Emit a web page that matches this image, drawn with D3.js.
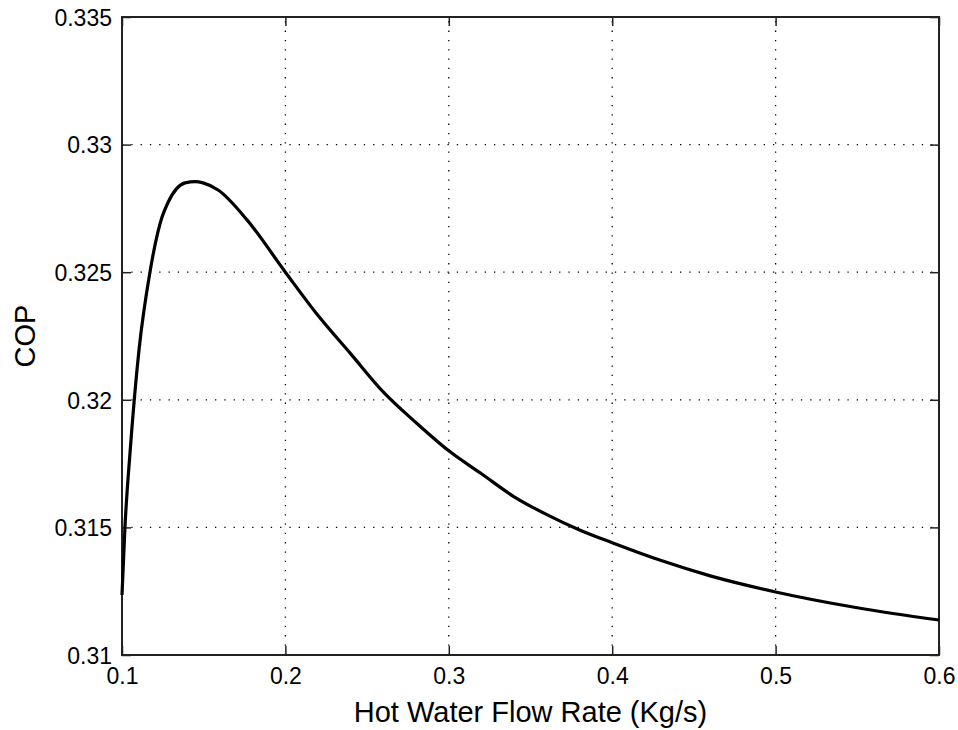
<!DOCTYPE html>
<html>
<head>
<meta charset="utf-8">
<script src="https://cdn.jsdelivr.net/npm/d3@7"></script>
<style>
  html, body { margin: 0; padding: 0; background: #fff; }
  svg { display: block; }
  text { font-family: "Liberation Sans", Arial, sans-serif; fill: #000; }
</style>
</head>
<body>
<script>
// Data
const flowRate = [0.1, 0.1018, 0.105, 0.1104, 0.1171, 0.1245, 0.128, 0.1386, 0.145, 0.1496, 0.1588, 0.1765, 0.2, 0.22, 0.24, 0.26, 0.28, 0.3, 0.32, 0.34, 0.36, 0.38, 0.4, 0.43, 0.46, 0.5, 0.55, 0.6];
const cop      = [0.31235, 0.315, 0.318, 0.32195, 0.325, 0.32716, 0.32771, 0.3285, 0.32855, 0.3285, 0.32822, 0.32705, 0.325, 0.3233, 0.3218, 0.3203, 0.3191, 0.318, 0.3171, 0.3162, 0.3155, 0.3149, 0.3144, 0.3137, 0.3131, 0.31247, 0.31185, 0.31137];
const xTicks = [0.1, 0.2, 0.3, 0.4, 0.5, 0.6];
const yTicks = [0.31, 0.315, 0.32, 0.325, 0.33, 0.335];
const xLabel = "Hot Water Flow Rate (Kg/s)";
const yLabel = "COP";

const W = 958, H = 730;
const m = { left: 122, right: 958 - 939, top: 17, bottom: 730 - 655 };

const svg = d3.select("body").append("svg").attr("width", W).attr("height", H);

const x = d3.scaleLinear().domain([0.1, 0.6]).range([m.left, W - m.right]);
const y = d3.scaleLinear().domain([0.31, 0.335]).range([H - m.bottom, m.top]);

const x0 = x.range()[0], x1 = x.range()[1], y0 = y.range()[0], y1 = y.range()[1];

// grid
const grid = svg.append("g").attr("stroke", "#000").attr("stroke-width", 1.3).attr("stroke-dasharray", "1.3 8");
grid.selectAll(".gx").data(xTicks.slice(1, -1)).join("line")
  .attr("x1", d => x(d)).attr("x2", d => x(d)).attr("y1", y0).attr("y2", y1);
grid.selectAll(".gy").data(yTicks.slice(1, -1)).join("line")
  .attr("y1", d => y(d)).attr("y2", d => y(d)).attr("x1", x0).attr("x2", x1);

// axes with inward ticks
const fmt = d => String(+d.toFixed(3));
const tickLen = 9;
const axB = svg.append("g").attr("transform", `translate(0,${y0})`)
  .call(d3.axisBottom(x).tickValues(xTicks).tickSizeInner(-tickLen).tickSizeOuter(0).tickPadding(13).tickFormat(fmt));
const axT = svg.append("g").attr("transform", `translate(0,${y1})`)
  .call(d3.axisTop(x).tickValues(xTicks).tickSizeInner(-tickLen).tickSizeOuter(0).tickFormat(""));
const axL = svg.append("g").attr("transform", `translate(${x0},0)`)
  .call(d3.axisLeft(y).tickValues(yTicks).tickSizeInner(-tickLen).tickSizeOuter(0).tickPadding(10).tickFormat(fmt));
const axR = svg.append("g").attr("transform", `translate(${x1},0)`)
  .call(d3.axisRight(y).tickValues(yTicks).tickSizeInner(-tickLen).tickSizeOuter(0).tickFormat(""));

[axB, axT, axL, axR].forEach(a => {
  a.select(".domain").remove();
  a.selectAll(".tick line").attr("stroke", "#222").attr("stroke-width", 1.5);
  a.selectAll("text").attr("font-size", 23).attr("font-family", '"Liberation Sans", Arial, sans-serif').attr("fill", "#000");
});
axB.selectAll("text").attr("dy", "0.71em");
axL.selectAll("text").attr("dy", "0.36em");

// frame
svg.append("rect").attr("x", x0).attr("y", y1).attr("width", x1 - x0).attr("height", y0 - y1)
  .attr("fill", "none").attr("stroke", "#222").attr("stroke-width", 2);

// curve
const pts = flowRate.map((d, i) => [d, cop[i]]);
svg.append("path").datum(pts)
  .attr("fill", "none").attr("stroke", "#000").attr("stroke-width", 3.2).attr("stroke-linejoin", "round")
  .attr("d", d3.line().x(d => x(d[0])).y(d => y(d[1])).curve(d3.curveMonotoneX));

// labels
svg.append("text").attr("x", (x0 + x1) / 2).attr("y", 722).attr("text-anchor", "middle")
  .attr("font-size", 29).text(xLabel);
svg.append("text").attr("transform", `translate(35,${(y0 + y1) / 2}) rotate(-90)`).attr("text-anchor", "middle")
  .attr("font-size", 29).text(yLabel);
</script>
</body>
</html>
